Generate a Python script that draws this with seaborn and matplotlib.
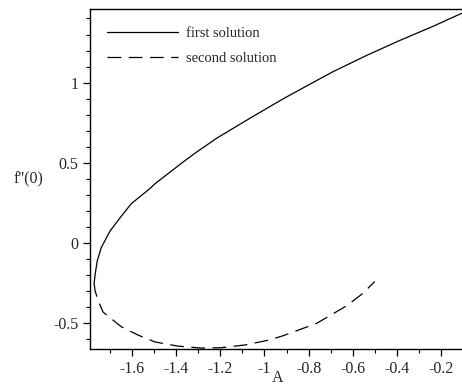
import numpy as np
import pandas as pd
import seaborn as sns
import matplotlib
matplotlib.use("Agg")
import matplotlib.pyplot as plt
from matplotlib.ticker import MultipleLocator, FuncFormatter

# values
first_A = [-1.772, -1.767, -1.758, -1.740, -1.700, -1.650, -1.604, -1.519, -1.496,
           -1.369, -1.310, -1.215, -1.066, -0.917, -0.795, -0.690, -0.537, -0.387,
           -0.238, -0.107]
first_f = [-0.250, -0.195, -0.113, -0.030, 0.075, 0.165, 0.245, 0.340, 0.370,
           0.505, 0.565, 0.655, 0.778, 0.898, 0.990, 1.068, 1.170, 1.263,
           1.350, 1.432]
second_A = [-1.772, -1.767, -1.750, -1.731, -1.650, -1.573, -1.496, -1.392, -1.288,
            -1.197, -1.089, -0.985, -0.917, -0.763, -0.627, -0.555, -0.500]
second_f = [-0.250, -0.300, -0.370, -0.430, -0.520, -0.573, -0.616, -0.642, -0.654,
            -0.652, -0.635, -0.606, -0.578, -0.500, -0.390, -0.314, -0.239]

sns.set_style("ticks")
plt.rcParams['font.family'] = ['Liberation Serif', 'DejaVu Serif']

fig = plt.figure(figsize=(4.62, 3.85), dpi=100)
ax = fig.add_axes([0.195, 0.0935, 0.805, 0.8835])

df1 = pd.DataFrame({'A': first_A, 'f': first_f})
df2 = pd.DataFrame({'A': second_A, 'f': second_f})
sns.lineplot(data=df1, x='A', y='f', sort=False, estimator=None, color='black',
             linewidth=0.9, label='first solution', ax=ax)
sns.lineplot(data=df2, x='A', y='f', sort=False, estimator=None, color='black',
             linewidth=0.9, linestyle=(0, (11, 6)), label='second solution', ax=ax)

ax.set_xlim(-1.79, -0.105)
ax.set_ylim(-0.66, 1.46)
ax.spines['right'].set_visible(False)
for s in ['left', 'bottom', 'top']:
    ax.spines[s].set_linewidth(1.0)
    ax.spines[s].set_color('black')

ax.xaxis.set_major_locator(MultipleLocator(0.2))
ax.xaxis.set_minor_locator(MultipleLocator(0.1))
ax.yaxis.set_major_locator(MultipleLocator(0.5))
ax.yaxis.set_minor_locator(MultipleLocator(0.1))
fmt = FuncFormatter(lambda v, p: ('%g' % round(v, 3)) if abs(v) > 1e-9 else '0')
ax.xaxis.set_major_formatter(fmt)
ax.yaxis.set_major_formatter(fmt)
ax.tick_params(which='major', length=5, width=0.9, labelsize=11.5, color='black')
ax.tick_params(which='minor', length=3, width=0.8, color='black')
ax.tick_params(top=False, right=False, which='both')

ax.set_xlabel('A', fontsize=11.5, va='top')
ax.xaxis.set_label_coords(0.505, -0.062)
ax.set_ylabel("f''(0)", fontsize=11.5, rotation=0, ha='center', va='center')
ax.yaxis.set_label_coords(-0.165, 0.5)

ax.legend(loc='upper left', bbox_to_anchor=(0.01, 0.985), frameon=False,
          fontsize=10.5, handlelength=4.9, handletextpad=0.5, labelspacing=0.8)

fig.savefig('out.png', dpi=100)
